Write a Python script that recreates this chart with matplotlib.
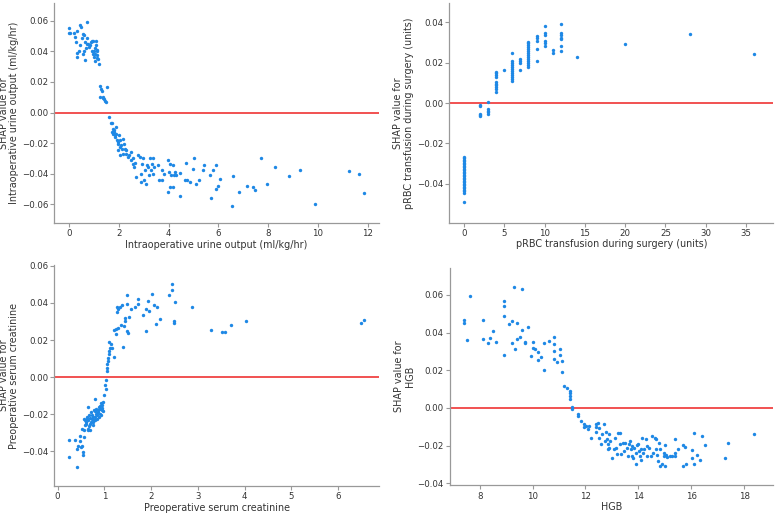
import matplotlib
matplotlib.use("Agg")
import matplotlib.pyplot as plt

# Panel 1: Intraoperative urine output
uo_x = [0, 0, 0.05, 0.19, 0.32, 0.23, 0.43, 0.46, 0.27, 0.30, 0.30, 0.4, 0.43, 0.5, 0.54, 0.59, 0.63, 0.54,
        0.59, 0.64, 0.70, 0.72, 0.76, 0.8, 0.86, 0.9, 0.94, 0.97, 0.99, 1.03, 1.07, 1.07, 1.10, 1.03, 1.12,
        1.17, 1.19, 1.1, 1.0, 0.83, 0.70, 0.67, 0.92, 1.05, 1.13,
        1.23, 1.27, 1.3, 1.5, 1.23, 1.34, 1.39, 1.43, 1.47, 1.37,
        1.61, 1.68, 1.70, 1.77, 1.7, 1.77, 1.81, 1.84, 1.88, 1.9, 1.93, 1.97, 2.01, 2.04, 2.06, 2.1, 2.14, 2.17,
        2.21, 2.24, 2.28, 2.3, 2.37, 2.41, 2.47, 2.5, 2.55, 2.57, 2.6, 2.64, 2.06, 1.97, 2.17, 1.8, 1.86, 1.95,
        2.7, 2.77, 2.84, 2.87, 2.9, 2.94, 2.97, 3.0, 3.04, 3.08, 3.11, 3.18, 3.22, 3.25, 3.27, 3.31, 3.35,
        3.38, 3.4, 3.58, 3.62, 3.71, 3.75, 3.81, 3.98, 3.98, 4.02, 4.05, 4.07, 4.1, 4.16, 4.18, 4.2, 4.25,
        4.29, 4.45, 4.45, 4.69, 4.65, 4.74, 4.85, 4.96, 5.01, 5.1, 5.23, 5.39, 5.42, 5.66, 5.7, 5.79, 5.9,
        5.92, 5.99, 6.06, 6.53, 6.6, 6.84, 7.13, 7.4, 7.47, 7.71, 7.96, 8.27, 8.85, 9.28, 9.88, 11.26, 11.66,
        11.85]
uo_y = [0.055, 0.052, 0.052, 0.052, 0.0535, 0.0495, 0.057, 0.056, 0.046, 0.039, 0.0365, 0.040, 0.044, 0.0485,
        0.0515, 0.0505, 0.0345, 0.038, 0.0405, 0.046, 0.059, 0.0485, 0.045, 0.043, 0.046, 0.0405, 0.047,
        0.0385, 0.0365, 0.042, 0.047, 0.0445, 0.040, 0.0335, 0.0375, 0.035, 0.032, 0.0355, 0.040, 0.044,
        0.045, 0.0425, 0.047, 0.038, 0.041,
        0.0172, 0.0157, 0.014, 0.0164, 0.0103, 0.0098, 0.0087, 0.0076, 0.007, 0.0105,
        -0.0028, -0.0068, -0.0068, -0.0105, -0.0127, -0.0137, -0.0127, -0.016, -0.0094, -0.0137, -0.018,
        -0.0203, -0.0148, -0.0225, -0.018, -0.0214, -0.0236, -0.017, -0.0203, -0.0236, -0.0268, -0.0247,
        -0.029, -0.028, -0.0312, -0.0257, -0.030, -0.0334, -0.0356, -0.033, -0.028, -0.0247, -0.027,
        -0.0115, -0.0145, -0.019,
        -0.042, -0.028, -0.029, -0.0454, -0.040, -0.0334, -0.030, -0.0443, -0.0378, -0.0465, -0.0345,
        -0.0356, -0.041, -0.030, -0.0378, -0.0334, -0.030, -0.040, -0.0356, -0.0345, -0.0443, -0.0378,
        -0.0443, -0.040, -0.0312, -0.052, -0.039, -0.0486, -0.0334, -0.041, -0.0486, -0.0345, -0.041,
        -0.039, -0.041, -0.0395, -0.0548, -0.0327, -0.0439, -0.0443, -0.0454, -0.0367, -0.0297, -0.0465,
        -0.0443, -0.0373, -0.034, -0.041, -0.056, -0.0378, -0.0502, -0.034, -0.048, -0.0437, -0.061,
        -0.0415, -0.052, -0.048, -0.0486, -0.0508, -0.0295, -0.0465, -0.0353, -0.0417, -0.0373, -0.060,
        -0.038, -0.0404, -0.0524]

# Panel 2: pRBC transfusion during surgery
rbc_x = [0] * 26 + [2] * 5 + [3] * 5 + [4] * 10 + [5] + [6] * 12 + [7] * 4 + [8] * 14 + [9] * 5 + \
        [10] * 6 + [11] * 2 + [12] * 7 + [14, 20, 28, 36]
rbc_y = [-0.0265, -0.0272, -0.0280, -0.0288, -0.0295, -0.0302, -0.0310, -0.0318, -0.0325, -0.0332, -0.0340,
         -0.0348, -0.0355, -0.0362, -0.0370, -0.0378, -0.0385, -0.0392, -0.0400, -0.0408, -0.0415, -0.0422,
         -0.0430, -0.0438, -0.0447, -0.0489,
         -0.0008, -0.0016, -0.0053, -0.0059, -0.0066,
         0.0007, -0.0030, -0.0040, -0.0046, -0.0053,
         0.0156, 0.0150, 0.0140, 0.0130, 0.0105, 0.0095, 0.0090, 0.0080, 0.0070, 0.0055,
         0.0163,
         0.0250, 0.0210, 0.0200, 0.0190, 0.0180, 0.0170, 0.0160, 0.0150, 0.0140, 0.0130, 0.0120, 0.0110,
         0.0217, 0.0209, 0.0200, 0.0163,
         0.0305, 0.0300, 0.0290, 0.0280, 0.0270, 0.0260, 0.0250, 0.0240, 0.0230, 0.0220, 0.0210, 0.0200,
         0.0190, 0.0180,
         0.0334, 0.0322, 0.0310, 0.0267, 0.0210,
         0.0380, 0.0349, 0.0340, 0.0310, 0.0300, 0.0285,
         0.0265, 0.0247,
         0.0390, 0.0346, 0.0336, 0.0325, 0.0316, 0.0283, 0.0257,
         0.0230, 0.0291, 0.0344, 0.0242]

# Panel 3: Preoperative serum creatinine
cr_x = [0.25, 0.25, 0.37, 0.41, 0.41, 0.44, 0.47, 0.49, 0.51, 0.53, 0.55, 0.55, 0.56, 0.53, 0.56, 0.58, 0.61,
        0.62, 0.64, 0.66, 0.66, 0.68, 0.69, 0.71, 0.73, 0.75, 0.76, 0.78, 0.8, 0.8, 0.82, 0.83, 0.85, 0.87,
        0.89, 0.91, 0.92, 0.94, 0.96, 0.98, 0.99, 1.01, 1.03, 1.03, 1.05, 1.05, 1.06, 1.08, 1.08, 1.11,
        1.11, 1.12, 1.11, 1.14, 1.16, 1.21, 1.21, 1.25, 1.25, 1.27, 1.27, 1.3, 1.3, 1.33, 1.35, 1.37, 1.39,
        1.42, 1.44, 1.44, 1.48, 1.49, 1.49, 1.51, 1.53, 1.58, 1.65, 1.71, 1.73, 1.82, 1.89, 1.9, 1.94, 1.96,
        2.03, 2.06, 2.1, 2.13, 2.18, 2.39, 2.44, 2.44, 2.48, 2.49, 2.51, 2.88, 3.29, 3.51, 3.58, 3.70, 4.02,
        6.48, 6.56,
        0.6, 0.63, 0.67, 0.7, 0.72, 0.74, 0.77, 0.79, 0.81, 0.84, 0.86, 0.88, 0.9, 0.93, 0.95, 0.97, 0.7,
        0.65, 0.75, 0.85, 0.9, 0.57, 0.59]
cr_y = [-0.0339, -0.043, -0.0339, -0.0388, -0.0483, -0.037, -0.0316, -0.0343, -0.038, -0.037, -0.0403,
        -0.0421, -0.0325, -0.0279, -0.0224, -0.026, -0.0243, -0.0215, -0.0279, -0.0234, -0.016, -0.0206,
        -0.0252, -0.0188, -0.0224, -0.0243, -0.0215, -0.0179, -0.0234, -0.012, -0.0197, -0.017, -0.0206,
        -0.0188, -0.016, -0.0197, -0.0142, -0.0179, -0.0151, -0.0133, -0.0097, -0.0042, -0.0064, -0.0015,
        0.0031, 0.0049, 0.0068, 0.0086, 0.0104, 0.0122, 0.014, 0.0155, 0.0192, 0.018, 0.0159, 0.0108,
        0.0254, 0.0235, 0.0259, 0.0378, 0.035, 0.0368, 0.0265, 0.0378, 0.0283, 0.0387, 0.0164, 0.0277,
        0.0305, 0.0319, 0.0441, 0.0396, 0.0251, 0.0237, 0.0326, 0.0368, 0.0381, 0.0396, 0.042, 0.0336,
        0.0251, 0.0368, 0.0409, 0.0359, 0.045, 0.039, 0.0286, 0.0378, 0.0314, 0.0441, 0.05, 0.0469, 0.0305,
        0.0292, 0.0405, 0.0381, 0.0254, 0.0246, 0.0241, 0.0283, 0.0305, 0.0292, 0.0308,
        -0.0255, -0.0228, -0.0265, -0.0222, -0.0245, -0.0205, -0.0232, -0.0213, -0.0185, -0.0195, -0.0176,
        -0.0218, -0.0172, -0.0205, -0.0168, -0.0185, -0.0285, -0.0288, -0.026, -0.0225, -0.0155, -0.0285,
        -0.023]

# Panel 4: HGB
hgb_x = [7.4, 7.4, 7.52, 7.62, 8.12, 8.12, 8.31, 8.41, 8.52, 8.62, 8.92, 8.92, 8.92, 8.92, 9.12, 9.22, 9.22,
         9.31, 9.33, 9.43, 9.43, 9.52, 9.61, 9.61, 9.71, 9.71, 9.83, 9.93, 10.01, 10.02, 10.11, 10.21, 10.21,
         10.32, 10.42, 10.42, 10.61, 10.82, 10.82, 10.82, 10.82, 10.92, 11.02, 11.02, 11.11, 11.11, 11.2,
         11.32, 11.42, 11.42, 11.42, 11.42, 11.5, 11.5, 11.73, 11.73, 11.83, 11.93, 11.93, 12.03, 12.1,
         12.12, 12.22, 12.4, 12.4, 12.4, 12.48, 12.5, 12.5, 12.6, 12.62, 12.7, 12.72, 12.78, 12.82, 12.85,
         12.87, 12.9, 12.9, 12.94, 12.99, 13.07, 13.1, 13.16, 13.2, 13.22, 13.29, 13.32, 13.34, 13.4, 13.44,
         13.49, 13.57, 13.62, 13.65, 13.69, 13.71, 13.74, 13.77, 13.81, 13.84, 13.9, 13.9, 13.94, 13.99,
         14.03, 14.06, 14.09, 14.11, 14.15, 14.19, 14.21, 14.27, 14.31, 14.34, 14.4, 14.46, 14.52, 14.56,
         14.61, 14.65, 14.68, 14.71, 14.73, 14.77, 14.81, 14.83, 14.89, 14.96, 14.98, 15.01, 15.02, 15.05,
         15.1, 15.18, 15.27, 15.39, 15.39, 15.39, 15.48, 15.7, 15.7, 15.8, 15.76, 16.02, 16.02, 16.1, 16.1,
         16.23, 16.31, 16.4, 16.52, 17.29, 17.39, 18.38]
hgb_y = [0.0467, 0.045, 0.0358, 0.0595, 0.0467, 0.0365, 0.0347, 0.0373, 0.0407, 0.035, 0.057, 0.0542, 0.0488,
         0.028, 0.0448, 0.0462, 0.0342, 0.0644, 0.0315, 0.045, 0.0365, 0.0379, 0.063, 0.0414, 0.035, 0.0342,
         0.0428, 0.0276, 0.035, 0.0319, 0.0315, 0.0299, 0.0255, 0.0272, 0.0343, 0.02, 0.0356, 0.0377, 0.0338,
         0.0303, 0.0262, 0.0244, 0.0315, 0.028, 0.025, 0.0193, 0.0117, 0.0108, 0.009, 0.0078, 0.0064, 0.0046,
         0.0005, -0.0007, -0.0034, -0.0042, -0.0071, -0.0083, -0.0104, -0.0096, -0.0113, -0.0096, -0.0158,
         -0.0087, -0.0104, -0.0127, -0.0081, -0.0108, -0.0158, -0.0193, -0.014, -0.0087, -0.0175, -0.0127,
         -0.0166, -0.0193, -0.022, -0.014, -0.0211, -0.0175, -0.0264, -0.0216, -0.0158, -0.0211, -0.0246,
         -0.0131, -0.0193, -0.0131, -0.0246, -0.0184, -0.0228, -0.0184, -0.0211, -0.0255, -0.0193, -0.0175,
         -0.022, -0.0255, -0.0202, -0.0264, -0.0211, -0.0299, -0.0237, -0.0198, -0.0193, -0.0228, -0.0255,
         -0.0276, -0.0216, -0.0158, -0.0237, -0.022, -0.0166, -0.0258, -0.0202, -0.0211, -0.0258, -0.0149,
         -0.0237, -0.0158, -0.022, -0.0166, -0.0251, -0.0281, -0.0184, -0.0308, -0.022, -0.0299, -0.0255,
         -0.0237, -0.0196, -0.0308, -0.0251, -0.026, -0.0255, -0.0258, -0.0237, -0.0258, -0.0166, -0.0216,
         -0.0198, -0.0308, -0.0299, -0.0207, -0.0225, -0.0267, -0.0131, -0.0299, -0.0249, -0.0276, -0.0149,
         -0.0198, -0.0264, -0.0189, -0.014]

panels = [
    (uo_x, uo_y, "Intraoperative urine output (ml/kg/hr)", [0.0698, 0.5653, 0.4172, 0.4287],
     (-0.6, 12.45), (-0.0722, 0.0716), [0, 2, 4, 6, 8, 10, 12], [-0.06, -0.04, -0.02, 0.0, 0.02, 0.04, 0.06]),
    (rbc_x, rbc_y, "pRBC transfusion during surgery (units)", [0.5775, 0.5660, 0.4165, 0.4280],
     (-1.83, 38.4), (-0.0593, 0.0496), [0, 5, 10, 15, 20, 25, 30, 35], [-0.04, -0.02, 0.0, 0.02, 0.04]),
    (cr_x, cr_y, "Preoperative serum creatinine", [0.0698, 0.0526, 0.4177, 0.4308],
     (-0.07, 6.88), (-0.0588, 0.0605), [0, 1, 2, 3, 4, 5, 6], [-0.04, -0.02, 0.0, 0.02, 0.04, 0.06]),
    (hgb_x, hgb_y, "HGB", [0.5784, 0.0540, 0.4156, 0.4240],
     (6.88, 19.1), (-0.0411, 0.0744), [8, 10, 12, 14, 16, 18], [-0.04, -0.02, 0.0, 0.02, 0.04, 0.06]),
]

fig = plt.figure(figsize=(7.78, 5.13), dpi=100)
text_c = "#333333"
for xs, ys, name, pos, xl, yl, xt, yt in panels:
    ax = fig.add_axes(pos)
    ax.scatter(xs, ys, s=6, color="#1E88E5", linewidths=0, zorder=3)
    ax.axhline(0, color="#ee2222", lw=1.1, zorder=2)
    ax.set_xlim(*xl)
    ax.set_ylim(*yl)
    ax.set_xticks(xt)
    ax.set_yticks(yt)
    ax.set_yticklabels([f"{v:.2f}".replace("-", "\u2212") for v in yt])
    ax.set_xlabel(name, fontsize=6.9, color=text_c, labelpad=1)
    ax.set_ylabel("SHAP value for\n" + name, fontsize=6.9, color=text_c, labelpad=2, linespacing=1.05)
    for s in ["top", "right"]:
        ax.spines[s].set_visible(False)
    for s in ["left", "bottom"]:
        ax.spines[s].set_color("#999999")
        ax.spines[s].set_linewidth(0.9)
    ax.tick_params(labelsize=6.2, colors="#999999", labelcolor=text_c, length=3, width=0.8, pad=1.5)

fig.savefig("out.png", dpi=100)
